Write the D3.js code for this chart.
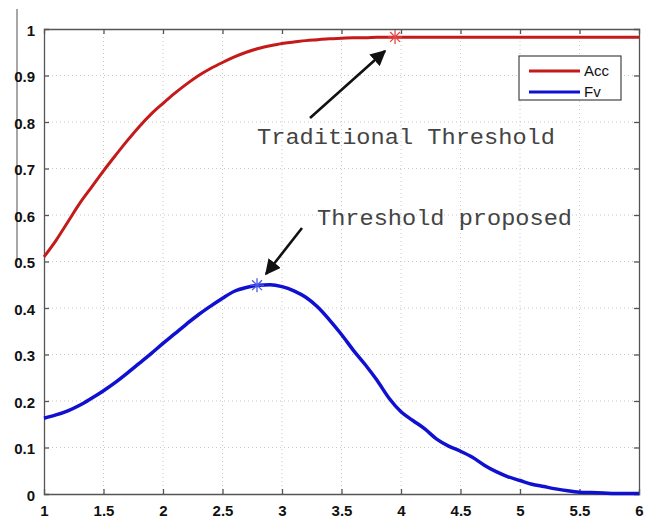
<!DOCTYPE html>
<meta charset="utf-8">
<body style="margin:0;background:#fff">
<script src="https://cdn.jsdelivr.net/npm/d3@7"></script>
<script>
// x positions shared by both curves
var xs = [1.0,1.1,1.2,1.3,1.4,1.5,1.6,1.7,1.8,1.9,2.0,2.1,2.2,2.3,2.4,2.5,2.6,2.7,2.8,2.9,3.0,
          3.1,3.2,3.3,3.4,3.5,3.6,3.7,3.8,3.9,4.0,4.1,4.2,4.3,4.4,4.5,4.6,4.7,4.8,4.9,5.0,
          5.1,5.2,5.3,5.4,5.5,5.6,5.7,5.8,5.9,6.0];
// Acc curve
var acc = [0.510,0.545,0.585,0.625,0.660,0.695,0.728,0.760,0.790,0.817,0.840,0.862,0.882,0.900,0.915,0.928,0.940,0.950,0.958,0.964,0.969,
           0.972,0.975,0.977,0.979,0.980,0.981,0.981,0.982,0.982,0.982,0.982,0.982,0.982,0.982,0.982,0.982,0.982,0.982,0.982,0.982,
           0.982,0.982,0.982,0.982,0.982,0.982,0.982,0.982,0.982,0.982];
// Fv curve
var fv = [0.163,0.170,0.179,0.191,0.206,0.222,0.240,0.260,0.281,0.302,0.324,0.345,0.366,0.386,0.404,0.421,0.436,0.444,0.449,0.450,0.446,
          0.437,0.423,0.402,0.374,0.343,0.309,0.278,0.244,0.206,0.177,0.158,0.140,0.118,0.103,0.092,0.079,0.062,0.048,0.037,0.029,
          0.021,0.016,0.011,0.007,0.004,0.003,0.002,0.001,0.001,0.001];
var xTicks = [1,1.5,2,2.5,3,3.5,4,4.5,5,5.5,6];
var yTicks = [0,0.1,0.2,0.3,0.4,0.5,0.6,0.7,0.8,0.9,1];
var legendNames = ["Acc","Fv"];
// marked points (threshold stars)
var tradPoint = [3.95, 0.983];
var propPoint = [2.79, 0.449];

var W = 658, H = 520;
var mLeft = 44, mRight = 639, mTop = 29, mBottom = 494;

var svg = d3.select("body").append("svg")
    .attr("width", W).attr("height", H)
    .style("font-family", "'Liberation Sans', Arial, sans-serif");

var x = d3.scaleLinear().domain([1, 6]).range([mLeft, mRight]);
var y = d3.scaleLinear().domain([0, 1]).range([mBottom, mTop]);

// page edge artifact
svg.append("line").attr("x1", 17).attr("x2", 17).attr("y1", 9).attr("y2", 262)
    .attr("stroke", "#8a8a8a").attr("stroke-width", 1.5);

// grid
var grid = svg.append("g").attr("stroke", "#c8c8c8").attr("stroke-width", 1).attr("stroke-dasharray", "1,3");
grid.selectAll(".gx").data(xTicks.slice(1, -1)).enter().append("line")
    .attr("x1", d => x(d)).attr("x2", d => x(d)).attr("y1", mTop).attr("y2", mBottom);
grid.selectAll(".gy").data(yTicks.slice(1, -1)).enter().append("line")
    .attr("x1", mLeft).attr("x2", mRight).attr("y1", d => y(d)).attr("y2", d => y(d));

// axes, matlab style ticks inside on all sides
var axB = svg.append("g").attr("transform", "translate(0," + mBottom + ")")
    .call(d3.axisBottom(x).tickValues(xTicks).tickSize(-5).tickPadding(11).tickFormat(d3.format("")));
var axT = svg.append("g").attr("transform", "translate(0," + mTop + ")")
    .call(d3.axisTop(x).tickValues(xTicks).tickSize(-5).tickFormat(""));
var axL = svg.append("g").attr("transform", "translate(" + mLeft + ",0)")
    .call(d3.axisLeft(y).tickValues(yTicks).tickSize(-5).tickPadding(9).tickFormat(d3.format("")));
var axR = svg.append("g").attr("transform", "translate(" + mRight + ",0)")
    .call(d3.axisRight(y).tickValues(yTicks).tickSize(-5).tickFormat(""));
[axB, axT, axL, axR].forEach(function(a) {
    a.selectAll("path,line").attr("stroke", "#555").attr("stroke-width", 1.3);
    a.selectAll("text").attr("fill", "#111").attr("font-size", 15).attr("font-weight", "bold")
        .attr("font-family", "'Liberation Sans', Arial, sans-serif");
});
axB.selectAll(".tick").filter(d => d == 1 || d == 6).select("line").remove();
axT.selectAll(".tick").filter(d => d == 1 || d == 6).select("line").remove();
axL.selectAll(".tick").filter(d => d == 0 || d == 1).select("line").remove();
axR.selectAll(".tick").filter(d => d == 0 || d == 1).select("line").remove();
axL.selectAll("text").attr("dy", "0.4em");

// curves
svg.append("path").datum(xs.map((v, i) => [v, acc[i]]))
    .attr("d", d3.line().x(d => x(d[0])).y(d => y(d[1])).curve(d3.curveMonotoneX))
    .attr("fill", "none").attr("stroke", "#c41a1a").attr("stroke-width", 3);
svg.append("path").datum(xs.map((v, i) => [v, fv[i]]))
    .attr("d", d3.line().x(d => x(d[0])).y(d => y(d[1])).curve(d3.curveMonotoneX))
    .attr("fill", "none").attr("stroke", "#1010d0").attr("stroke-width", 3.5).attr("stroke-linejoin", "round");

// asterisk markers
function star(p, col) {
    var g = svg.append("g").attr("transform", "translate(" + x(p[0]) + "," + y(p[1]) + ")")
        .attr("stroke", col).attr("stroke-width", 1.3);
    [0, 45, 90, 135].forEach(function(a) {
        var r = a * Math.PI / 180, s = 7;
        g.append("line").attr("x1", -s * Math.cos(r)).attr("y1", -s * Math.sin(r))
            .attr("x2", s * Math.cos(r)).attr("y2", s * Math.sin(r));
    });
}
star(tradPoint, "#e04848");
star(propPoint, "#4a5ae8");

// arrows
svg.append("defs").append("marker").attr("id", "ah")
    .attr("viewBox", "0 0 10 10").attr("refX", 9).attr("refY", 5)
    .attr("markerWidth", 6).attr("markerHeight", 6).attr("orient", "auto")
    .append("path").attr("d", "M0,0 L10,5 L0,10 z").attr("fill", "#111");
function arrow(x1, y1, x2, y2) {
    svg.append("line").attr("x1", x1).attr("y1", y1).attr("x2", x2).attr("y2", y2)
        .attr("stroke", "#111").attr("stroke-width", 2.6).attr("marker-end", "url(#ah)");
}
arrow(310, 118, 385, 51);
arrow(302, 228, 266, 274);

svg.append("text").attr("x", 257).attr("y", 144).text("Traditional Threshold")
    .attr("font-family", "'Liberation Mono', monospace").attr("font-size", 22)
    .attr("fill", "#444").attr("textLength", 298).attr("lengthAdjust", "spacingAndGlyphs");
svg.append("text").attr("x", 317).attr("y", 225).text("Threshold proposed")
    .attr("font-family", "'Liberation Mono', monospace").attr("font-size", 22)
    .attr("fill", "#444").attr("textLength", 255).attr("lengthAdjust", "spacingAndGlyphs");

// legend
var lg = svg.append("g");
lg.append("rect").attr("x", 519).attr("y", 56).attr("width", 102).attr("height", 44)
    .attr("fill", "#fff").attr("stroke", "#444").attr("stroke-width", 1.2);
var lcol = ["#c41a1a", "#1010d0"];
legendNames.forEach(function(n, i) {
    var ly = 71 + i * 21;
    lg.append("line").attr("x1", 529).attr("x2", 580).attr("y1", ly).attr("y2", ly)
        .attr("stroke", lcol[i]).attr("stroke-width", 3);
    lg.append("text").attr("x", 584).attr("y", ly + 5).text(n)
        .attr("font-size", 15).attr("fill", "#111");
});
</script>
</body>
